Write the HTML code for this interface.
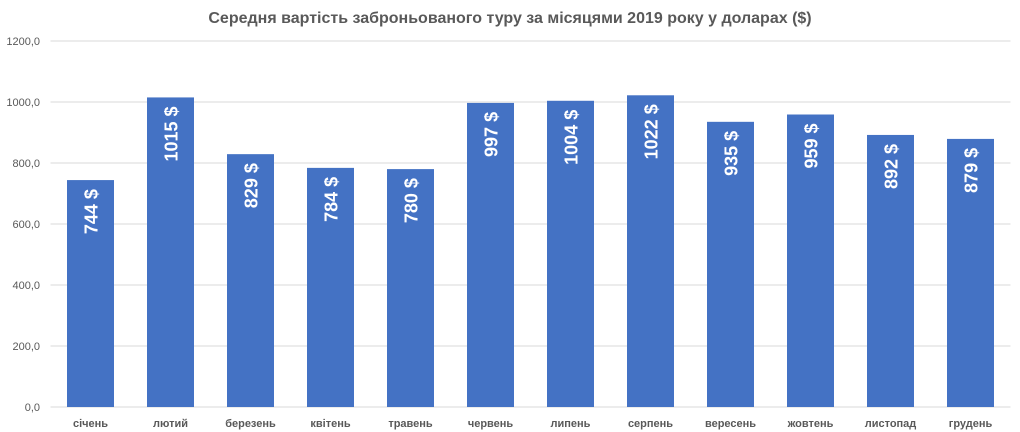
<!DOCTYPE html>
<html><head><meta charset="utf-8"><style>
body{margin:0;background:#fff;}
svg{display:block;font-family:"Liberation Sans","DejaVu Sans",sans-serif;}
</style></head><body>
<svg id="c" width="1020" height="432">
<text x="510" y="23" text-anchor="middle" font-size="16" font-weight="bold" fill="#595959">Середня вартість заброньованого туру за місяцями 2019 року у доларах ($)</text>
</svg>
<script>
const categories=["січень","лютий","березень","квітень","травень","червень","липень","серпень","вересень","жовтень","листопад","грудень"];
const values=[744,1015,829,784,780,997,1004,1022,935,959,892,879];
const ticks=[0,200,400,600,800,1000,1200];
const tickLabels=["0,0","200,0","400,0","600,0","800,0","1000,0","1200,0"];
const svg=document.getElementById('c');
const NS='http://www.w3.org/2000/svg';
const L=50.5,R=1010.5,Y0=407,Y1=41,MAX=1200;
const y=v=>Y0-(Y0-Y1)*v/MAX;
const step=(R-L)/categories.length;
const x=i=>L+step*(i+0.5);
function mk(t,a){const e=document.createElementNS(NS,t);for(const k in a)e.setAttribute(k,a[k]);svg.appendChild(e);return e;}
ticks.forEach((t,i)=>{
 const g=mk('line',{x1:L,x2:R,y1:y(t),y2:y(t),stroke:'#d9d9d9','stroke-width':1});
 
 
 const tl=mk('text',{x:40,y:y(t)+4,'text-anchor':'end','font-size':11,fill:'#595959'});
 tl.textContent=tickLabels[i];
 
 
});
categories.forEach((c,i)=>{
 const b=mk('rect',{x:x(i)-23.5,y:y(values[i]),width:47,height:Y0-y(values[i]),fill:'#4472c4'});
 
 
 const lx=x(i)+7,ly=y(values[i])+9;
 const v=mk('text',{x:lx,y:ly,transform:`rotate(-90 ${lx} ${ly})`,'text-anchor':'end','font-size':18,'font-weight':'bold',fill:'#fff'});
 v.textContent=values[i]+' $';
 
 
 const cl=mk('text',{x:x(i),y:427,'text-anchor':'middle','font-size':11,'font-weight':'bold',fill:'#595959'});
 cl.textContent=c;
 
 
});
</script>
</body></html>
